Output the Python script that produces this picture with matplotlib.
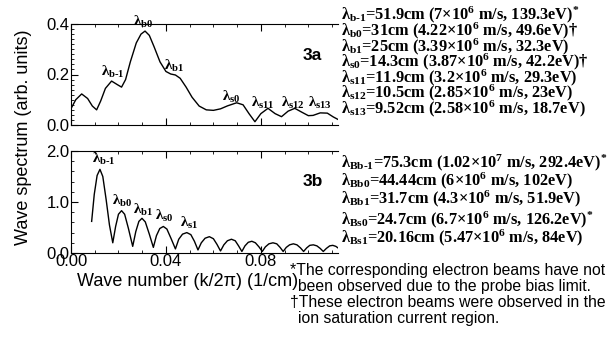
import matplotlib.pyplot as plt
from matplotlib.ticker import MultipleLocator

plt.rcParams["font.family"] = ["Liberation Sans", "DejaVu Sans"]
plt.rcParams["mathtext.fontset"] = "custom"
plt.rcParams["mathtext.rm"] = "Liberation Serif:bold"
plt.rcParams["mathtext.it"] = "Liberation Serif:bold"
plt.rcParams["mathtext.bf"] = "Liberation Serif:bold"

# Fig. 3a wave spectrum
k_a = [0.0003, 0.0020, 0.0045, 0.0070, 0.0090, 0.0108, 0.0125, 0.0145, 0.0171,
       0.0195, 0.0213, 0.0230, 0.0250, 0.0275, 0.0295, 0.0312, 0.0330, 0.0350,
       0.0375, 0.0400, 0.0420, 0.0440, 0.0460, 0.0485, 0.0510, 0.0540, 0.0570,
       0.0600, 0.0630, 0.0660, 0.0698, 0.0725, 0.0750, 0.0775, 0.0800, 0.0830,
       0.0860, 0.0887, 0.0915, 0.0943, 0.0970, 0.1000, 0.1020, 0.1050, 0.1080,
       0.1105, 0.1125]
s_a = [0.070, 0.100, 0.123, 0.105, 0.075, 0.060, 0.095, 0.145, 0.174,
       0.160, 0.150, 0.180, 0.250, 0.325, 0.360, 0.372, 0.355, 0.310,
       0.250, 0.212, 0.202, 0.198, 0.185, 0.150, 0.110, 0.075, 0.060,
       0.058, 0.064, 0.076, 0.088, 0.080, 0.045, 0.013, 0.045, 0.066,
       0.045, 0.033, 0.055, 0.066, 0.052, 0.037, 0.038, 0.048, 0.047,
       0.032, 0.022]

# Fig. 3b wave spectrum
k_b = [0.0087, 0.0098, 0.0110, 0.0122, 0.0134, 0.0148, 0.0162, 0.0176,
       0.0188, 0.0200, 0.0213, 0.0226, 0.0242, 0.0260,
       0.0273, 0.0286, 0.0299, 0.0313, 0.0330, 0.0347,
       0.0360, 0.0374, 0.0389, 0.0404, 0.0422, 0.0440,
       0.0454, 0.0470, 0.0488, 0.0505, 0.0520, 0.0535,
       0.0549, 0.0565, 0.0583, 0.0600, 0.0615, 0.0630,
       0.0644, 0.0659, 0.0676, 0.0692, 0.0706, 0.0720,
       0.0733, 0.0747, 0.0762, 0.0777, 0.0792, 0.0806,
       0.0819, 0.0834, 0.0851, 0.0867, 0.0881, 0.0894,
       0.0907, 0.0921, 0.0937, 0.0952, 0.0967, 0.0980,
       0.0993, 0.1006, 0.1021, 0.1036, 0.1050, 0.1063,
       0.1076, 0.1090, 0.1103, 0.1116, 0.1125]
s_b = [0.62, 1.15, 1.52, 1.64, 1.50, 1.05, 0.55, 0.20,
       0.52, 0.76, 0.83, 0.76, 0.48, 0.13,
       0.42, 0.62, 0.68, 0.61, 0.37, 0.11,
       0.34, 0.48, 0.52, 0.47, 0.28, 0.08,
       0.27, 0.37, 0.40, 0.36, 0.23, 0.06,
       0.20, 0.29, 0.32, 0.28, 0.17, 0.04,
       0.16, 0.24, 0.27, 0.24, 0.14, 0.03,
       0.14, 0.21, 0.23, 0.20, 0.12, 0.03,
       0.12, 0.18, 0.20, 0.18, 0.11, 0.03,
       0.11, 0.16, 0.18, 0.16, 0.10, 0.03,
       0.10, 0.15, 0.16, 0.14, 0.09, 0.03,
       0.09, 0.14, 0.15, 0.13, 0.10]

HY = "\u2010"  # plain hyphen inside the subscripts

# peak labels: (text, k, spectrum) at the label's lower-left corner
peaks_a = [(rf"$\lambda_{{b{HY}1}}$", 0.0125, 0.180), (r"$\lambda_{b0}$", 0.0262, 0.378),
           (r"$\lambda_{b1}$", 0.0392, 0.200), (r"$\lambda_{s0}$", 0.0635, 0.078),
           (r"$\lambda_{s11}$", 0.0760, 0.055), (r"$\lambda_{s12}$", 0.0885, 0.055),
           (r"$\lambda_{s13}$", 0.1000, 0.055)]
peaks_b = [(rf"$\lambda_{{b{HY}1}}$", 0.0090, 1.68), (r"$\lambda_{b0}$", 0.0172, 0.86),
           (r"$\lambda_{b1}$", 0.0262, 0.68), (r"$\lambda_{s0}$", 0.0352, 0.56),
           (r"$\lambda_{s1}$", 0.0458, 0.44)]

list_a = [rf"$\lambda_{{b{HY}1}}$=51.9cm (7×10$^{{6}}$ m/s, 139.3eV)$^{{*}}$",
          r"$\lambda_{b0}$=31cm (4.22×10$^{6}$ m/s, 49.6eV)†",
          r"$\lambda_{b1}$=25cm (3.39×10$^{6}$ m/s, 32.3eV)",
          r"$\lambda_{s0}$=14.3cm (3.87×10$^{6}$ m/s, 42.2eV)†",
          r"$\lambda_{s11}$=11.9cm (3.2×10$^{6}$ m/s, 29.3eV)",
          r"$\lambda_{s12}$=10.5cm (2.85×10$^{6}$ m/s, 23eV)",
          r"$\lambda_{s13}$=9.52cm (2.58×10$^{6}$ m/s, 18.7eV)"]
list_b = [rf"$\lambda_{{Bb{HY}1}}$=75.3cm (1.02×10$^{{7}}$ m/s, 292.4eV)$^{{*}}$",
          r"$\lambda_{Bb0}$=44.44cm (6×10$^{6}$ m/s, 102eV)",
          r"$\lambda_{Bb1}$=31.7cm (4.3×10$^{6}$ m/s, 51.9eV)",
          r"$\lambda_{Bs0}$=24.7cm (6.7×10$^{6}$ m/s, 126.2eV)$^{*}$",
          r"$\lambda_{Bs1}$=20.16cm (5.47×10$^{6}$ m/s, 84eV)"]
list_a_y = [15, 31, 47, 62, 78, 93, 109]
list_b_y = [163, 181, 199, 220, 238]

W, H = 616, 341
fig = plt.figure(figsize=(W / 100, H / 100), dpi=100)


def fx(px):
    return px / W


def fy(py):
    return 1 - py / H


ax_a = fig.add_axes([fx(71), fy(125), fx(338) - fx(71), fy(24) - fy(125)])
ax_b = fig.add_axes([fx(71), fy(253), fx(338) - fx(71), fy(151) - fy(253)])

ax_a.plot(k_a, s_a, color="black", lw=1.0)
ax_b.plot(k_b, s_b, color="black", lw=1.0)

for ax, ymax, yticks, yminor in [(ax_a, 0.4, [0, 0.2, 0.4], 0.02),
                                 (ax_b, 2.0, [0, 1, 2], 0.2)]:
    ax.set_xlim(0, 0.1125)
    ax.set_ylim(0, ymax)
    ax.set_xticks([0, 0.04, 0.08])
    ax.xaxis.set_minor_locator(MultipleLocator(0.01))
    ax.set_yticks(yticks)
    ax.yaxis.set_minor_locator(MultipleLocator(yminor))
    ax.spines["right"].set_visible(False)
    for sp in ax.spines.values():
        sp.set_linewidth(0.8)
    ax.tick_params(which="both", direction="in", top=True, right=False,
                   labelsize=12, pad=1)
    ax.tick_params(which="major", length=5, width=0.8)
    ax.tick_params(which="minor", length=2.5, width=0.6)

ax_a.set_yticklabels(["0.0", "0.2", "0.4"])
ax_a.tick_params(labelbottom=False)
ax_b.set_yticklabels(["0.0", "1.0", "2.0"])
ax_b.set_xticklabels(["0.00", "0.04", "0.08"])

for ax, peaks in [(ax_a, peaks_a), (ax_b, peaks_b)]:
    for txt, k, s in peaks:
        ax.text(k, s, txt, fontsize=11, va="bottom", ha="left", clip_on=False)

ax_a.text(0.905, 0.69, "3a", transform=ax_a.transAxes, fontsize=12.5,
          fontweight="bold", ha="center", va="center")
ax_b.text(0.905, 0.70, "3b", transform=ax_b.transAxes, fontsize=12.5,
          fontweight="bold", ha="center", va="center")

for lines, ys in [(list_a, list_a_y), (list_b, list_b_y)]:
    for txt, py in zip(lines, ys):
        fig.text(fx(341), fy(py), txt, fontsize=11.8, family="Liberation Serif",
                 fontweight="bold", ha="left", va="center")

fig.text(fx(24), fy(137), "Wave spectrum (arb. units)", rotation=90,
         fontsize=13, ha="center", va="center")
fig.text(fx(188), fy(282), "Wave number (k/2π) (1/cm)", fontsize=13,
         ha="center", va="center")

notes = [(290, 270, "*The corresponding electron beams have not"),
         (298, 286, "been observed due to the probe bias limit."),
         (290, 302, "†These electron beams were observed in the"),
         (298, 318, "ion saturation current region.")]
for px, py, txt in notes:
    fig.text(fx(px), fy(py), txt, fontsize=11.3, ha="left", va="center")

fig.savefig("out.png", dpi=100)
